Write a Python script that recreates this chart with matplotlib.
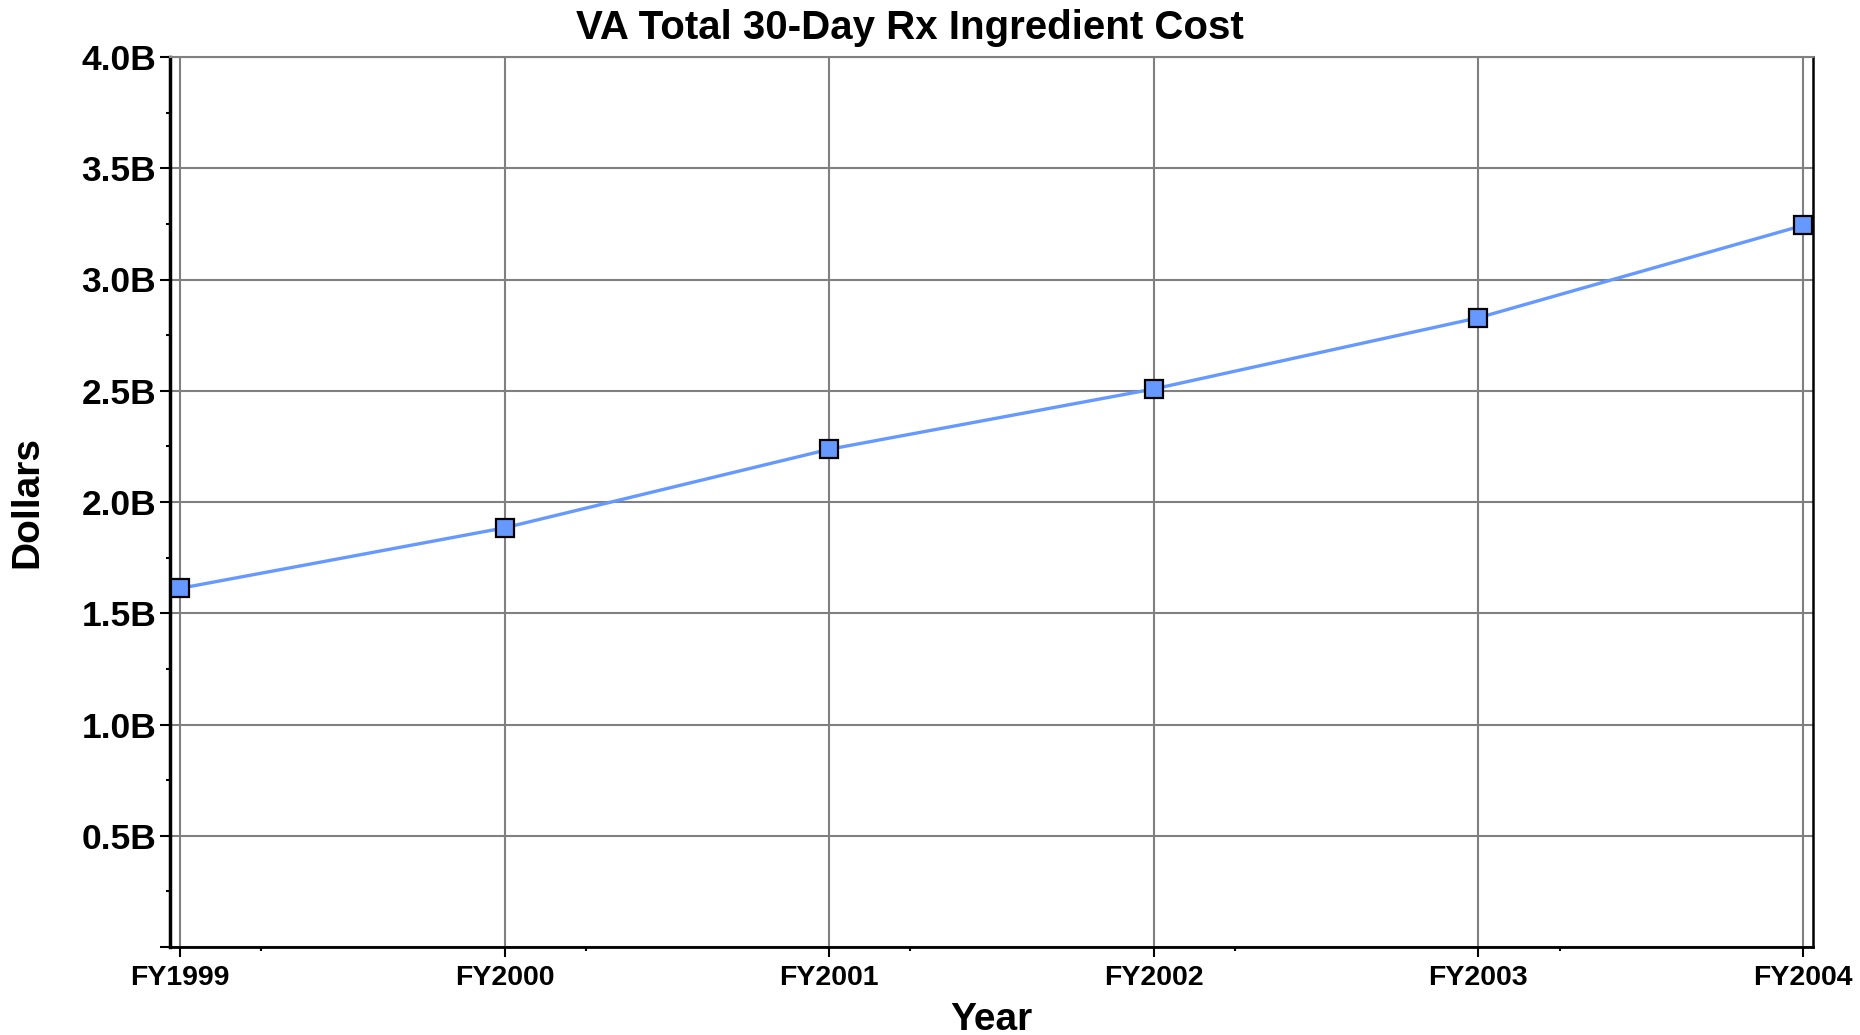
import matplotlib
matplotlib.use('Agg')
import matplotlib.pyplot as plt
import numpy as np
from matplotlib.ticker import FixedLocator

plt.rcParams['font.family'] = ['Liberation Sans', 'DejaVu Sans']

# data (billions of dollars)
years = ['FY1999', 'FY2000', 'FY2001', 'FY2002', 'FY2003', 'FY2004']
cost = [1.612, 1.884, 2.237, 2.508, 2.828, 3.243]
yticks = [0, 0.5, 1.0, 1.5, 2.0, 2.5, 3.0, 3.5, 4.0]
ylabels = ['', '0.5B', '1.0B', '1.5B', '2.0B', '2.5B', '3.0B', '3.5B', '4.0B']

fig = plt.figure(figsize=(18.6, 10.35), dpi=100)
ax = fig.add_axes([170/1860, 1-947/1035, (1813-170)/1860, (947-57)/1035])

x = np.arange(len(years))
ax.grid(True, color='#808080', linewidth=1.5, zorder=0)
ax.plot(x, cost, color='#6699FF', linewidth=2.4, marker='s', markersize=13.5,
        markerfacecolor='#6699FF', markeredgecolor='black', markeredgewidth=1.6,
        zorder=3, clip_on=False)

ax.set_xlim(-0.031, len(years) - 1 + 0.031)
ax.set_ylim(0, 4.0)
ax.set_xticks(x)
ax.set_xticklabels(years, fontsize=20.5, fontweight='bold')
ax.set_yticks(yticks)
ax.set_yticklabels(ylabels, fontsize=25.5, fontweight='bold')
ax.xaxis.set_minor_locator(FixedLocator(x[:-1] + 0.25))
ax.yaxis.set_minor_locator(FixedLocator(np.arange(0.25, 4.0, 0.5)))

ax.tick_params(axis='both', which='major', direction='out', length=7, width=1.5, color='black')
ax.tick_params(axis='both', which='minor', direction='out', length=3, width=1.5, color='black')
ax.tick_params(axis='y', which='major', pad=3)
ax.tick_params(axis='x', which='major', pad=6)

ax.spines['left'].set_linewidth(2.5)
ax.spines['left'].set_color('black')
ax.spines['bottom'].set_linewidth(2.0)
ax.spines['bottom'].set_color('black')
ax.spines['right'].set_linewidth(1.8)
ax.spines['right'].set_color('black')
ax.spines['top'].set_linewidth(1.5)
ax.spines['top'].set_color('#808080')

ax.set_xlabel('Year', fontsize=28, fontweight='bold', labelpad=8)
ax.set_ylabel('Dollars', fontsize=28, fontweight='bold', labelpad=26)
fig.text(910/1860, 1-28/1035, 'VA Total 30-Day Rx Ingredient Cost', ha='center', va='center',
         fontsize=29, fontweight='bold')

fig.savefig('out.png', dpi=100)
